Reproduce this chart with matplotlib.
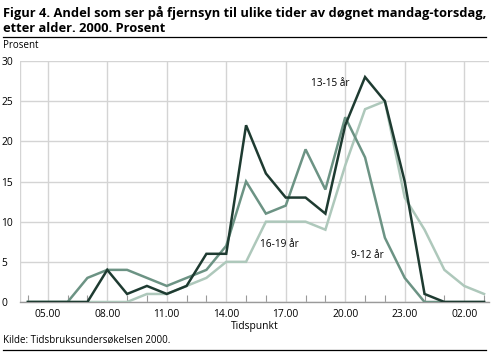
import matplotlib
matplotlib.use("Agg")
import matplotlib.pyplot as plt
from matplotlib.lines import Line2D

hours = ["04.00", "05.00", "06.00", "07.00", "08.00", "09.00", "10.00", "11.00",
         "12.00", "13.00", "14.00", "15.00", "16.00", "17.00", "18.00", "19.00",
         "20.00", "21.00", "22.00", "23.00", "00.00", "01.00", "02.00", "03.00"]
age_9_12 = [0, 0, 0, 3, 4, 4, 3, 2, 3, 4, 7, 15, 11, 12, 19, 14, 23, 18, 8, 3, 0, 0, 0, 0]
age_13_15 = [0, 0, 0, 0, 4, 1, 2, 1, 2, 6, 6, 22, 16, 13, 13, 11, 22, 28, 25, 15, 1, 0, 0, 0]
age_16_19 = [0, 0, 0, 0, 0, 0, 1, 1, 2, 3, 5, 5, 10, 10, 10, 9, 17, 24, 25, 13, 9, 4, 2, 1]
tick_labels = ["05.00", "08.00", "11.00", "14.00", "17.00", "20.00", "23.00", "02.00"]
yticks = [0, 5, 10, 15, 20, 25, 30]

plt.rcParams['font.family'] = ['Open Sans', 'DejaVu Sans']

W, H = 494, 354
fig = plt.figure(figsize=(W / 100, H / 100), dpi=100)
ax = fig.add_axes([20 / W, 1 - 302 / H, (489 - 20) / W, (302 - 61) / H])

x = list(range(len(hours)))
c_dark = "#1e3b31"
c_mid = "#6c9384"
c_light = "#aec8bb"

ax.plot(x, age_16_19, color=c_light, lw=1.8, solid_joinstyle="miter", zorder=3)
ax.plot(x, age_9_12, color=c_mid, lw=1.8, solid_joinstyle="miter", zorder=4)
ax.plot(x, age_13_15, color=c_dark, lw=1.8, solid_joinstyle="miter", zorder=5)

ax.set_xlim(-0.4, 23.25)
ax.set_ylim(0, 30)
tick_pos = [hours.index(t) for t in tick_labels]
ax.set_xticks(tick_pos)
ax.set_xticklabels(tick_labels, fontsize=7.4)
ax.set_xticks(x, minor=True)
ax.set_yticks(yticks)
ax.set_yticklabels([str(v) for v in yticks], fontsize=7.4)
ax.tick_params(axis="x", which="major", length=0, pad=5)
ax.tick_params(axis="x", which="minor", direction="in", length=5, color="#9a9a9a", width=0.8)
ax.tick_params(axis="y", length=0, pad=0)
for lab in ax.get_yticklabels():
    lab.set_horizontalalignment("left")
    lab.set_x(-0.04)

ax.grid(True, which="major", color="#d4d4d4", lw=1.0, zorder=0)
ax.set_axisbelow(True)
for s in ["top", "right", "left"]:
    ax.spines[s].set_visible(False)
ax.spines["bottom"].set_color("#9a9a9a")
ax.spines["bottom"].set_linewidth(1.0)
ax.axvline(-0.4, color="#d4d4d4", lw=1.0, zorder=0)

ax.set_xlabel("Tidspunkt", fontsize=7.4, labelpad=1)

ax.text(hours.index("20.00") + 0.2, 27.2, "13-15 år", fontsize=7.2, ha="right", va="center")
ax.text(hours.index("16.00") - 0.3, 7.1, "16-19 år", fontsize=7.2, ha="left", va="center")
ax.text(hours.index("20.00") + 0.3, 5.8, "9-12 år", fontsize=7.2, ha="left", va="center")

fig.text(3 / W, 1 - 13 / H, "Figur 4. Andel som ser på fjernsyn til ulike tider av døgnet mandag-torsdag,",
         fontsize=9.3, fontweight="bold", ha="left", va="center")
fig.text(3 / W, 1 - 28 / H, "etter alder. 2000. Prosent",
         fontsize=9.3, fontweight="bold", ha="left", va="center")
fig.add_artist(Line2D([3 / W, 486 / W], [1 - 37 / H, 1 - 37 / H], color="black", lw=0.9))
fig.text(3 / W, 1 - 46 / H, "Prosent", fontsize=7, ha="left", va="center")
fig.text(3 / W, 1 - 340 / H, "Kilde: Tidsbruksundersøkelsen 2000.", fontsize=7, ha="left", va="center")
fig.add_artist(Line2D([3 / W, 486 / W], [1 - 350 / H, 1 - 350 / H], color="black", lw=0.9))

fig.savefig("out.png", dpi=100)
